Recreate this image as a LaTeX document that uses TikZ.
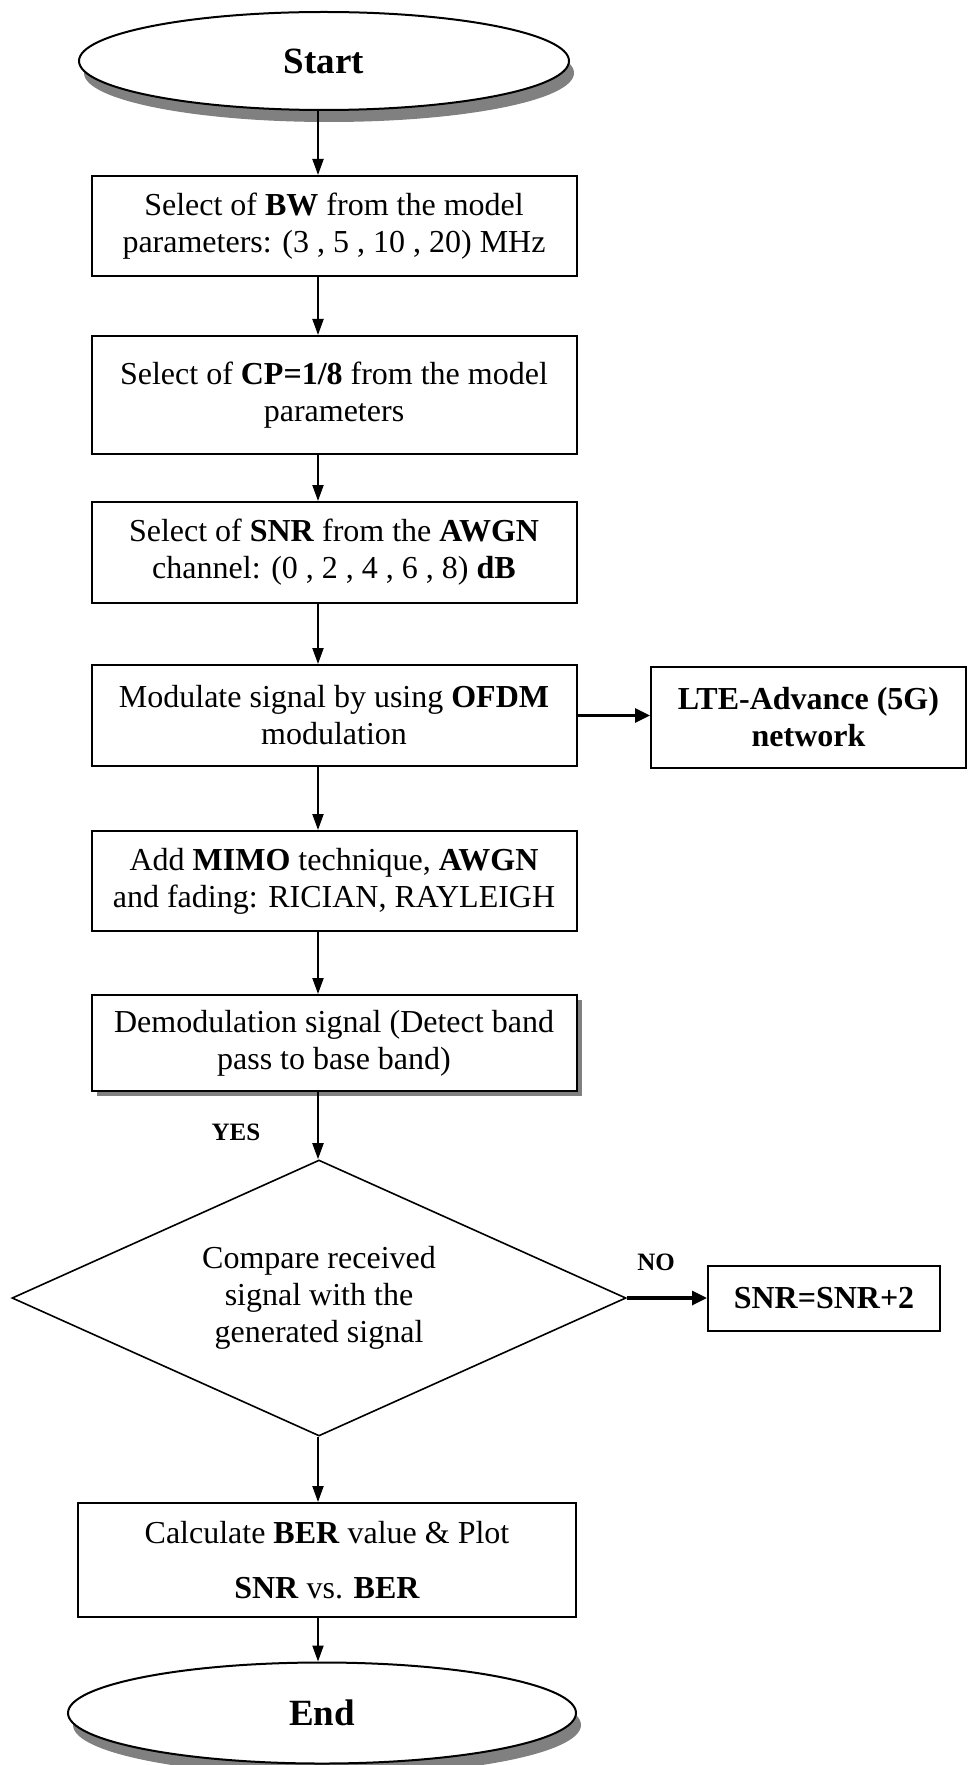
\documentclass[tikz,border=0pt]{standalone}
\usepackage{fontspec}
\setmainfont{Liberation Serif}
\usetikzlibrary{arrows.meta, shapes.geometric, shadows}
\tikzset{
  stepbox/.style={draw, line width=1pt, rectangle, fill=white, minimum width=242.5pt, align=center, inner sep=2pt, font=\fontsize{16}{18.5}\selectfont},
  terminal/.style={draw, line width=1pt, ellipse, fill=white, font=\bfseries\fontsize{18.5}{22}\selectfont, drop shadow={shadow xshift=2.5pt, shadow yshift=-6pt, fill=black!50, opacity=1}},
  decision/.style={draw, line width=0.8pt, diamond, aspect=2.24, inner sep=0pt, minimum width=307pt, minimum height=138pt, align=center, font=\fontsize{16}{18.5}\selectfont},
  flow/.style={-{Triangle[length=8pt,width=5.5pt]}, line width=1pt},
  branch/.style={-{Triangle[length=7.5pt,width=7pt]}, line width=1.6pt},
  answer/.style={font=\bfseries\fontsize{12.5}{15}\selectfont}
}
\begin{document}
\begin{tikzpicture}[x=0.5pt, y=-0.5pt]
  \useasboundingbox (0,0) rectangle (968,1765);
  \coordinate (colx) at (318,0);
  % terminals
  \node[terminal, minimum width=245pt, minimum height=49pt] (start) at (324,61) {Start};
  \node[terminal, minimum width=254pt, minimum height=50.5pt] (stop) at (322,1713) {End};
  % main column
  \node[stepbox, minimum height=50pt] (bw) at (334,226) {Select of \textbf{BW} from the model\\ parameters: (3 , 5 , 10 , 20) MHz};
  \node[stepbox, minimum height=59pt] (cp) at (334,395) {Select of \textbf{CP=1/8} from the model\\ parameters};
  \node[stepbox, minimum height=50.5pt] (snrsel) at (334,552.5) {Select of \textbf{SNR} from the \textbf{AWGN}\\ channel: (0 , 2 , 4 , 6 , 8) \textbf{dB}};
  \node[stepbox, minimum height=50.5pt] (ofdm) at (334,715.5) {Modulate signal by using \textbf{OFDM}\\ modulation};
  \node[stepbox, minimum height=50pt] (mimo) at (334,881) {Add \textbf{MIMO} technique, \textbf{AWGN}\\ and fading: RICIAN, RAYLEIGH};
  \node[stepbox, minimum height=48pt, drop shadow={shadow xshift=2.5pt, shadow yshift=-2.5pt, fill=black!50, opacity=1}] (demod) at (334,1043) {Demodulation signal (Detect band\\ pass to base band)};
  \node[decision] (cmp) at (319,1298) {Compare received\\ signal with the\\ generated signal};
  \node[stepbox, minimum width=249pt, minimum height=57pt] (ber) at (327,1560) {Calculate \textbf{BER} value \& Plot\\[9pt] \textbf{SNR} vs. \textbf{BER}};
  % side boxes
  \node[stepbox, font=\bfseries\fontsize{16}{18.5}\selectfont, minimum width=157.5pt, minimum height=50.5pt] (lte) at (808.5,717.5) {LTE-Advance (5G)\\ network};
  \node[stepbox, font=\bfseries\fontsize{16}{18.5}\selectfont, minimum width=116pt, minimum height=32.5pt] (snrinc) at (824,1298.5) {SNR=SNR+2};
  % labels
  \node[answer] (yes) at (236,1132) {YES};
  \node[answer] (no) at (656,1262) {NO};
  % connectors
  \draw[flow] (start.south -| colx) -- (bw.north -| colx);
  \draw[flow] (bw.south -| colx) -- (cp.north -| colx);
  \draw[flow] (cp.south -| colx) -- (snrsel.north -| colx);
  \draw[flow] (snrsel.south -| colx) -- (ofdm.north -| colx);
  \draw[flow] (ofdm.south -| colx) -- (mimo.north -| colx);
  \draw[flow] (mimo.south -| colx) -- (demod.north -| colx);
  \draw[flow] (demod.south -| colx) -- (cmp.north -| colx);
  \draw[flow] (cmp.south -| colx) -- (ber.north -| colx);
  \draw[flow] (ber.south -| colx) -- (stop.north -| colx);
  \draw[branch] (ofdm.east) -- (lte.west |- ofdm.east);
  \draw[branch] (cmp.east) -- (snrinc.west |- cmp.east);
\end{tikzpicture}
\end{document}
